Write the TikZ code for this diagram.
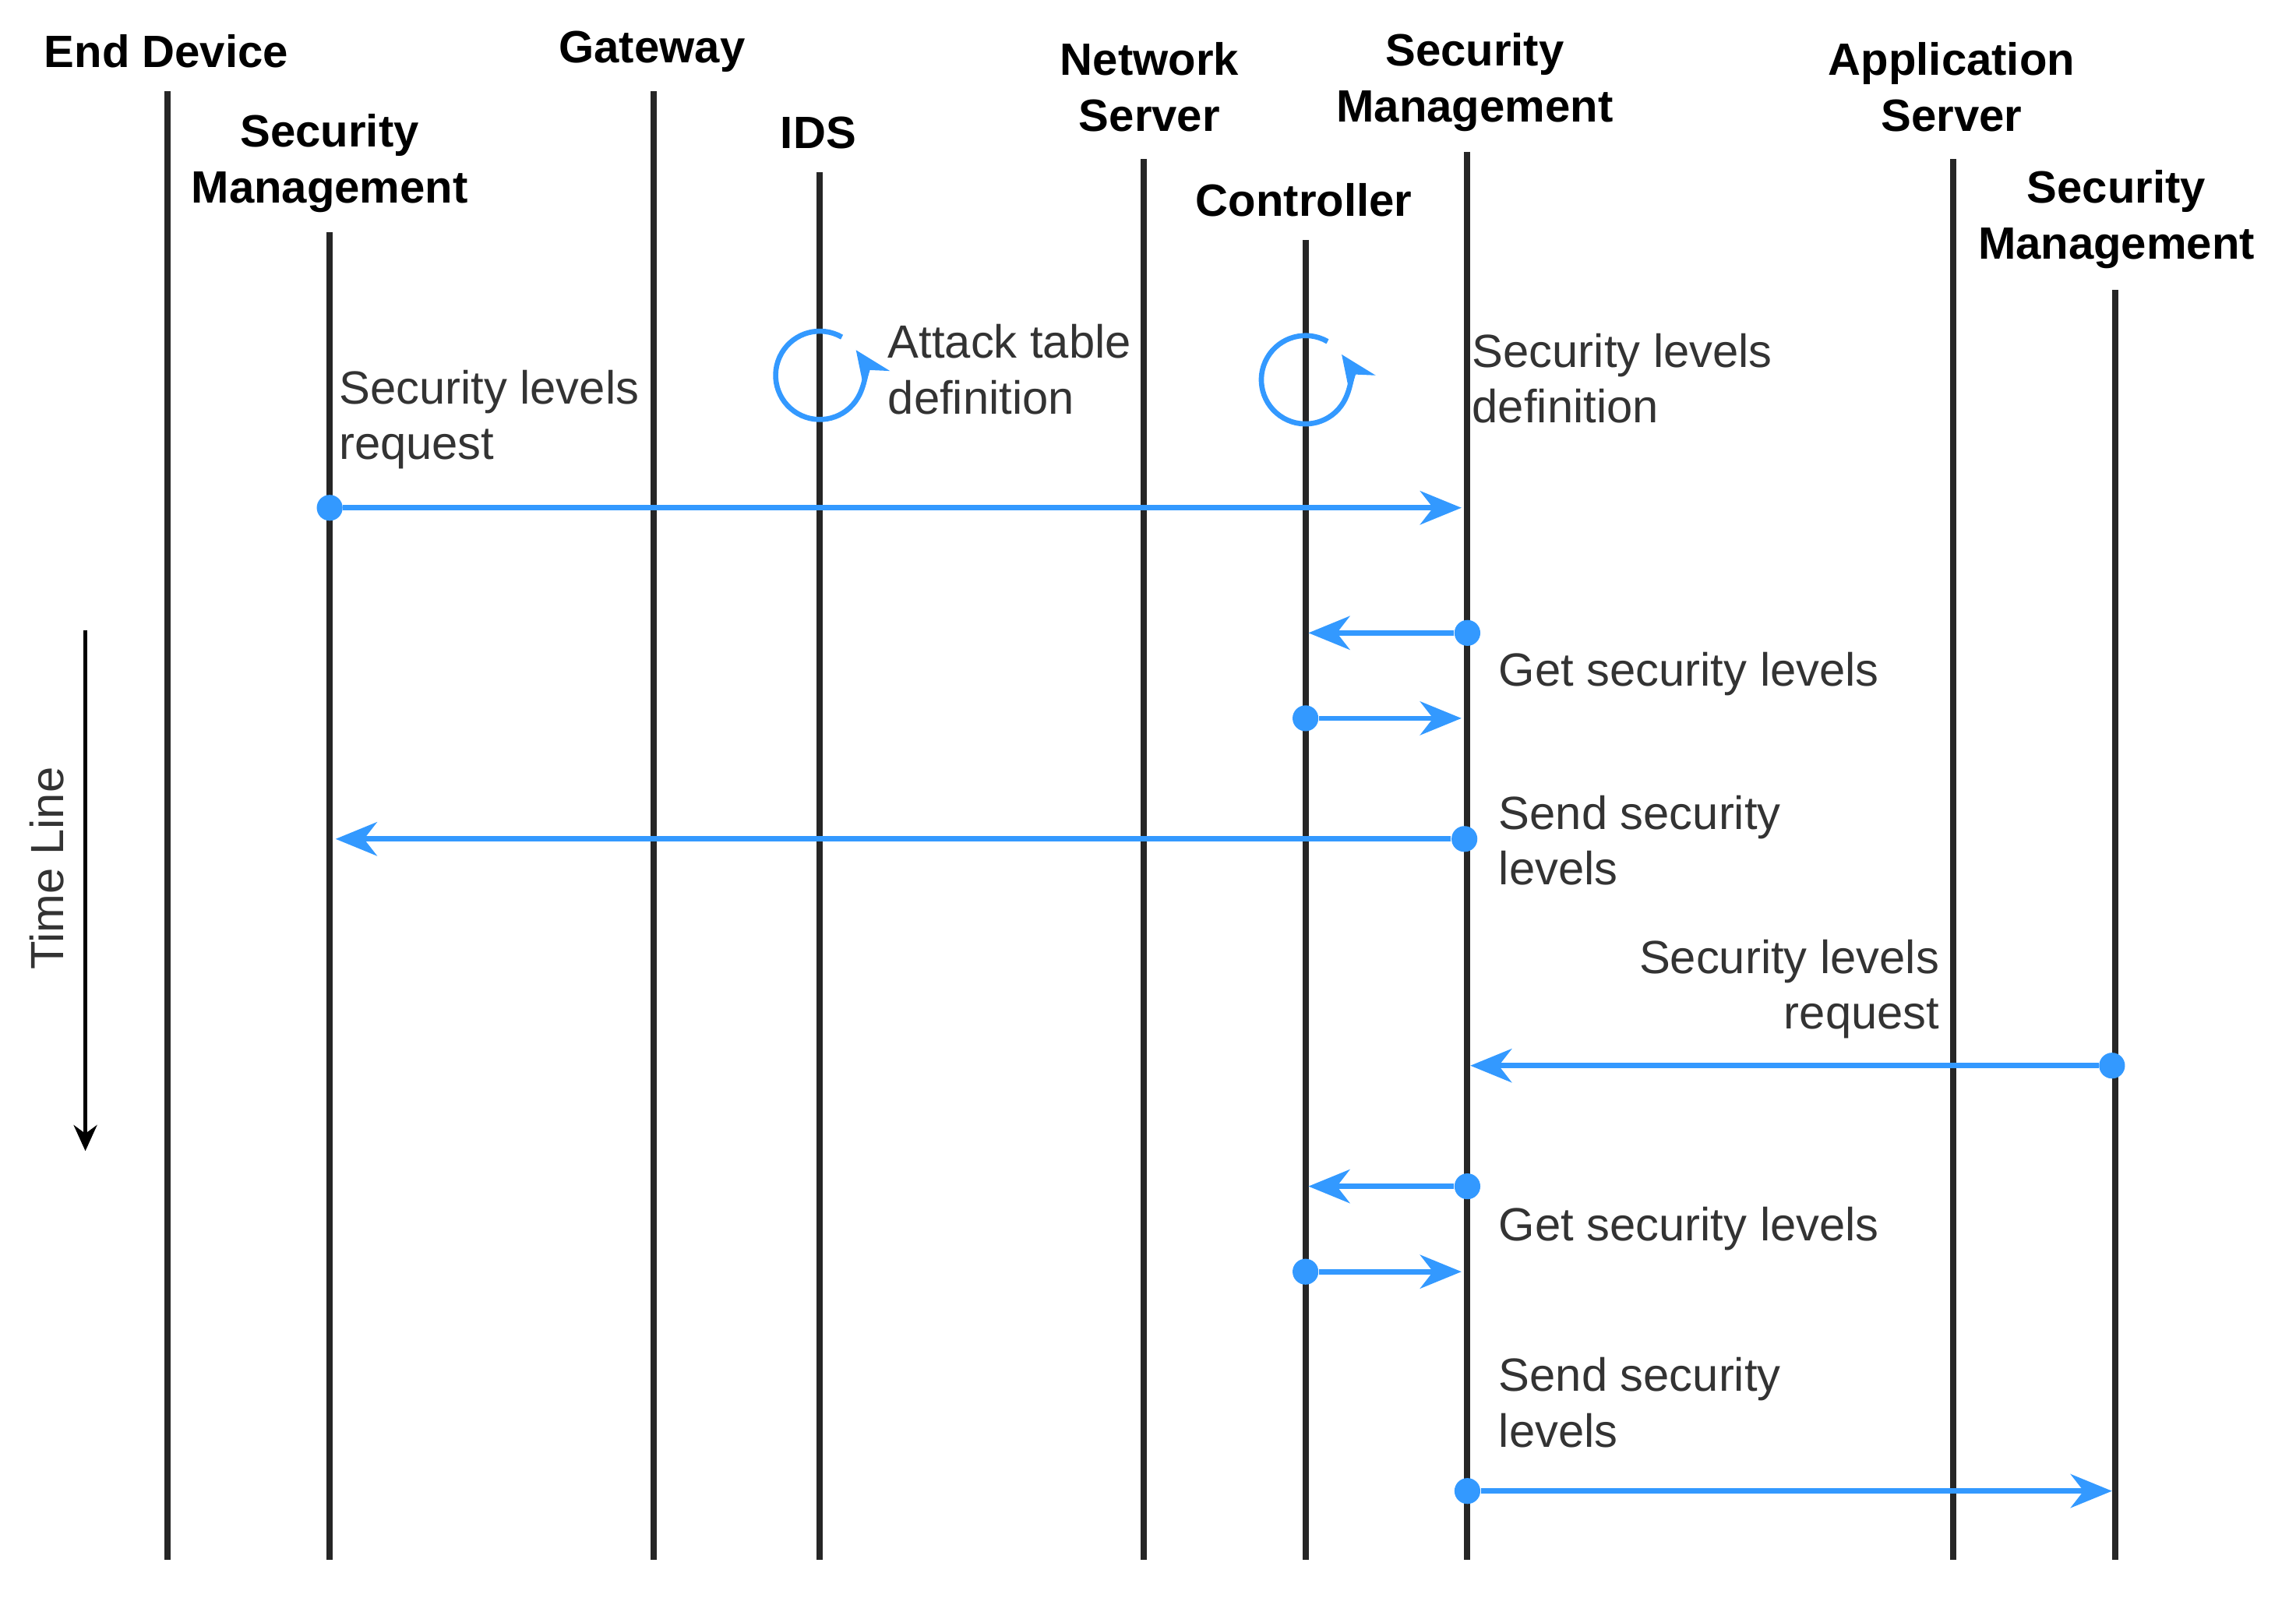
\documentclass[tikz,border=0pt]{standalone}
\usepackage{fontspec}
\setmainfont{Liberation Sans}
\usetikzlibrary{arrows.meta}
\definecolor{bl}{HTML}{3399FF}
\begin{document}
\begin{tikzpicture}[x=0.02cm,y=-0.02cm,
  life/.style={line width=2.4pt,black!85},
  hd/.style={font=\fontsize{17.5}{21.6}\selectfont\bfseries,align=center},
  lb/.style={font=\fontsize{18}{21.6}\selectfont,align=left,anchor=west,text=black!80,inner xsep=0pt},
  msg/.style={bl,line width=2pt,-{Stealth[length=16pt,width=13pt,inset=5pt]}},
  dot/.style={circle,fill=bl,inner sep=0pt,minimum size=10pt}]
\useasboundingbox (0,0) rectangle (1560,1090);
\foreach \n/\x/\t in {ed/114/62,sa/224/158,gw/444/62,ids/557/117,ns/777/108,ct/887/163,sb/997/103,as/1327/108,sc/1437/197}{
  \coordinate (\n t) at (\x,\t); \coordinate (\n b) at (\x,1060);
  \draw[life] (\n t) -- (\n b);}
\node[hd] (hed) at (113,35) {End Device};
\node[hd] (hgw) at (443,35) {Gateway};
\node[hd] (hids) at (556,90) {IDS};
\node[hd] (hns) at (781,59) {Network\\Server};
\node[hd] (hsa) at (224,111) {Security\\Management};
\node[hd] (hct) at (886,136) {Controller};
\node[hd] (hsb) at (1002,56) {Security\\Management};
\node[hd] (has) at (1326,59) {Application\\Server};
\node[hd] (hsc) at (1438,149) {Security\\Management};
% loops
\draw[bl,line width=2pt,-{Stealth[length=14pt,width=12pt]}] (557,255) ++(-60:30) arc[start angle=-60,end angle=-395,radius=30];
\draw[bl,line width=2pt,-{Stealth[length=14pt,width=12pt]}] (887,258) ++(-60:30) arc[start angle=-60,end angle=-395,radius=30];
% messages
\node[dot] (d1) at (224,345) {}; \coordinate (e1) at (993,345);
\draw[msg] (d1) -- (e1);
\node[dot] (d2) at (997,430) {}; \coordinate (e2) at (889,430);
\draw[msg] (d2) -- (e2);
\node[dot] (d3) at (887,488) {}; \coordinate (e3) at (993,488);
\draw[msg] (d3) -- (e3);
\node[dot] (d4) at (995,570) {}; \coordinate (e4) at (228,570);
\draw[msg] (d4) -- (e4);
\node[dot] (d5) at (1435,724) {}; \coordinate (e5) at (999,724);
\draw[msg] (d5) -- (e5);
\node[dot] (d6) at (997,806) {}; \coordinate (e6) at (889,806);
\draw[msg] (d6) -- (e6);
\node[dot] (d7) at (887,864) {}; \coordinate (e7) at (993,864);
\draw[msg] (d7) -- (e7);
\node[dot] (d8) at (997,1013) {}; \coordinate (e8) at (1435,1013);
\draw[msg] (d8) -- (e8);
% labels
\node[lb] (l1) at (230,285) {Security levels\\request};
\node[lb] (l2) at (603,251) {Attack table\\definition};
\node[lb] (l3) at (1000,257) {Security levels\\definition};
\node[lb] (l4) at (1018,458) {Get security levels};
\node[lb] (l5) at (1018,571) {Send security\\levels};
\node[lb,anchor=east,align=right] (l6) at (1318,672) {Security levels\\request};
\node[lb] (l7) at (1018,835) {Get security levels};
\node[lb] (l8) at (1018,953) {Send security\\levels};
% time line
\node[lb,anchor=center,rotate=90] (tl) at (32,590) {Time Line};
\coordinate (ta) at (58,428); \coordinate (tb) at (58,782);
\draw[line width=1.6pt,-{Stealth[length=10pt,width=9pt]}] (ta) -- (tb);
\end{tikzpicture}
\end{document}
